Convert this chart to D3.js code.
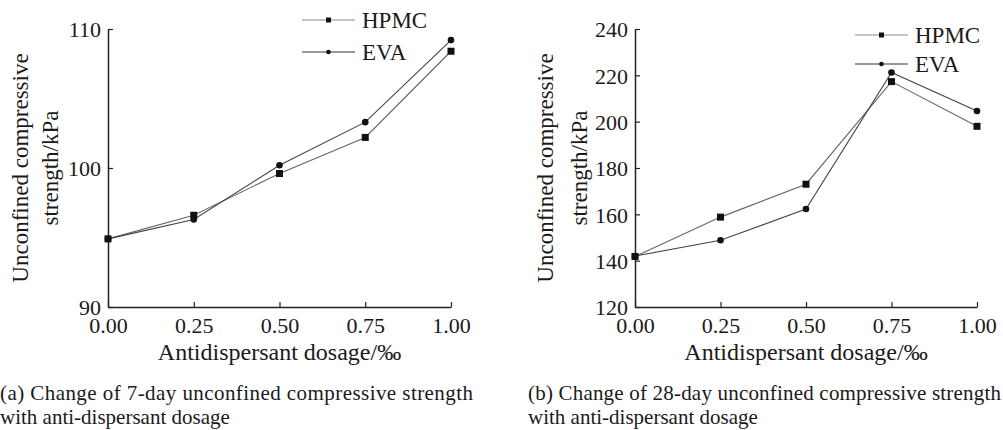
<!DOCTYPE html>
<html>
<head>
<meta charset="utf-8">
<script src="https://cdn.jsdelivr.net/npm/d3@7"></script>
<style>
  body { margin: 0; background: #fff; }
  svg text { font-family: "Liberation Serif", "DejaVu Serif", serif !important; fill: #1a1a1a; }
</style>
</head>
<body>
<script>
// dosages (‰) and strengths
var dosage = [0, 0.25, 0.5, 0.75, 1.0];
var xTicks = [0, 0.25, 0.5, 0.75, 1.0];

var hpmc7 = [94.9, 96.6, 99.6, 102.2, 108.4];
var eva7  = [94.9, 96.3, 100.2, 103.3, 109.2];
var yTicks7 = [90, 100, 110];

var hpmc28 = [141.8, 158.8, 173.0, 217.3, 198.0];
var eva28  = [142.0, 148.8, 162.3, 221.2, 204.6];
var yTicks28 = [120, 140, 160, 180, 200, 220, 240];

var seriesNames = ["HPMC", "EVA"];
var captions = [
  ["(a) Change of 7-day unconfined compressive strength", "with anti-dispersant dosage"],
  ["(b) Change of 28-day unconfined compressive strength", "with anti-dispersant dosage"]
];

var width = 1003, height = 430;
var svg = d3.select("body").append("svg")
  .attr("width", width).attr("height", height)
  .style("font-family", "Liberation Serif");

function panel(opt) {
  var g = svg.append("g");
  var x = d3.scaleLinear().domain([0, 1]).range([opt.left, opt.right]);
  var y = d3.scaleLinear().domain(opt.yDomain).range([307, 29]);

  // axes, ticks pointing inward
  var xa = g.append("g").attr("transform", "translate(0,307)")
    .call(d3.axisBottom(x).tickValues(xTicks).tickFormat(d3.format(".2f"))
      .tickSizeInner(-5).tickSizeOuter(0).tickPadding(10));
  var ya = g.append("g").attr("transform", "translate(" + opt.left + ",0)")
    .call(d3.axisLeft(y).tickValues(opt.yTicks).tickFormat(d3.format("d"))
      .tickSizeInner(-5).tickSizeOuter(0).tickPadding(7));
  [xa, ya].forEach(function(a) {
    a.attr("font-family", "Liberation Serif").attr("font-size", 22);
    a.selectAll("text").style("font-size", "22px").attr("fill", "#1a1a1a");
    a.selectAll("line").attr("stroke", "#222").attr("stroke-width", 1.2);
    a.select(".domain").attr("stroke", "#222").attr("stroke-width", 1.5);
  });
  ya.selectAll("text").attr("dy", "0.35em");

  // x title
  g.append("text").attr("x", (opt.left + opt.right) / 2).attr("y", 360)
    .attr("text-anchor", "middle").style("font-size", "24px")
    .text("Antidispersant dosage/\u2030");

  // y title, two lines
  [["Unconfined compressive", opt.yt1], ["strength/kPa", opt.yt2]].forEach(function(t) {
    g.append("text")
      .attr("transform", "translate(" + t[1] + ",168) rotate(-90)")
      .attr("text-anchor", "middle").style("font-size", "23px")
      .text(t[0]);
  });

  var line = d3.line().x(function(d, i) { return x(dosage[i]); }).y(function(d) { return y(d); });
  var colors = ["#666", "#444"];

  opt.series.forEach(function(vals, k) {
    g.append("path").datum(vals).attr("d", line)
      .attr("fill", "none").attr("stroke", colors[k]).attr("stroke-width", 1.1);
  });
  // markers
  g.selectAll(".sq").data(opt.series[0]).enter().append("rect")
    .attr("x", function(d, i) { return x(dosage[i]) - 3.5; })
    .attr("y", function(d) { return y(d) - 3.5; })
    .attr("width", 7).attr("height", 7).attr("fill", "#111");
  g.selectAll(".ci").data(opt.series[1]).enter().append("circle")
    .attr("cx", function(d, i) { return x(dosage[i]); })
    .attr("cy", function(d) { return y(d); })
    .attr("r", 3.3).attr("fill", "#111");

  // legend
  seriesNames.forEach(function(name, k) {
    var ly = opt.legY[k];
    g.append("line").attr("x1", opt.legX).attr("x2", opt.legX + 53)
      .attr("y1", ly).attr("y2", ly).attr("stroke", k ? "#333" : "#888").attr("stroke-width", 1.1);
    if (k === 0) {
      g.append("rect").attr("x", opt.legX + 26.5 - 2.5).attr("y", ly - 2.5)
        .attr("width", 5).attr("height", 5).attr("fill", "#111");
    } else {
      g.append("circle").attr("cx", opt.legX + 26.5).attr("cy", ly).attr("r", 2.3).attr("fill", "#111");
    }
    g.append("text").attr("x", opt.legX + 60).attr("y", ly + 8)
      .style("font-size", "23px").text(name);
  });

  // caption
  g.append("text").attr("x", opt.capX).attr("y", 400)
    .style("font-size", "21px")
    .attr("textLength", opt.capW).attr("lengthAdjust", "spacing")
    .text(opt.caption[0]);
  g.append("text").attr("x", opt.capX).attr("y", 424)
    .style("font-size", "21px").text(opt.caption[1]);
}

panel({
  left: 108, right: 451, yDomain: [90, 110], yTicks: yTicks7,
  series: [hpmc7, eva7], yt1: 28, yt2: 58,
  legX: 302, legY: [20, 52], capX: 0, capW: 473, caption: captions[0]
});
panel({
  left: 635, right: 977, yDomain: [120, 240], yTicks: yTicks28,
  series: [hpmc28, eva28], yt1: 553, yt2: 587,
  legX: 855, legY: [35, 64], capX: 528, capW: 473, caption: captions[1]
});
</script>
</body>
</html>
